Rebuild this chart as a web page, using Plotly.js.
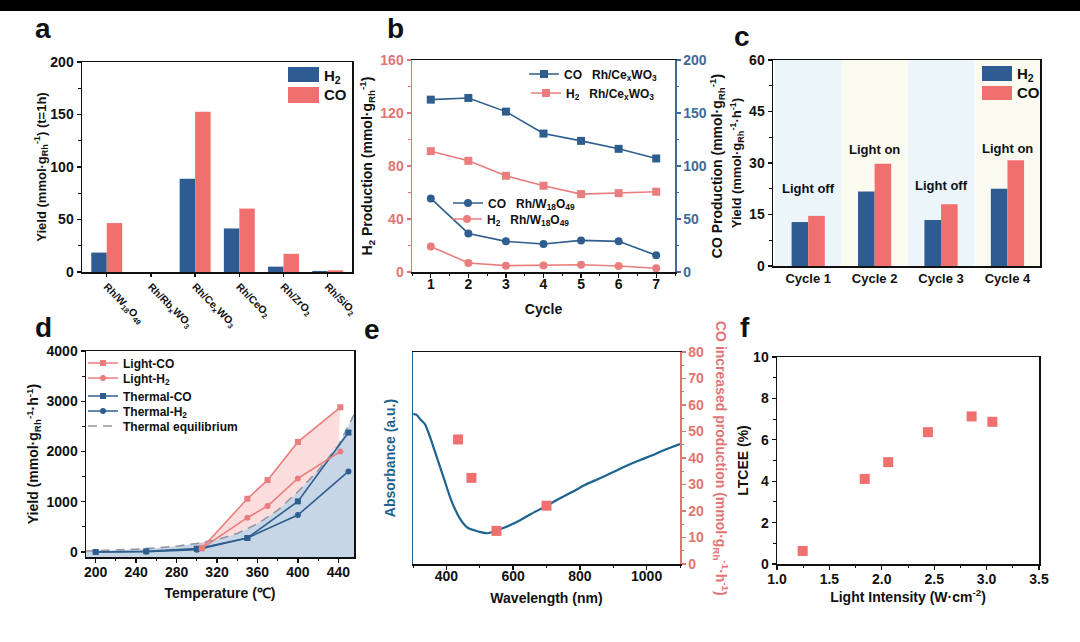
<!DOCTYPE html>
<html>
<head>
<meta charset="utf-8">
<script src="https://cdn.plot.ly/plotly-3.0.1.min.js"></script>
<style>
  html, body { margin: 0; padding: 0; background: #ffffff; }
  #fig { width: 1080px; height: 642px; }
</style>
</head>
<body>
<div id="fig"></div>
<script>
// ---------- (a) one-hour yields on different supports ----------
const supports = ['Rh/W<sub>18</sub>O<sub>49</sub>', 'Rh/Rb<sub>x</sub>WO<sub>3</sub>', 'Rh/Ce<sub>x</sub>WO<sub>3</sub>',
                  'Rh/CeO<sub>2</sub>', 'Rh/ZrO<sub>2</sub>', 'Rh/SiO<sub>2</sub>'];
const supportH2 = [18.5, 0, 88.8, 41.5, 5.1, 1.0];
const supportCO = [46.6, 0, 152.7, 60.4, 17.3, 1.6];

// ---------- (b) cycling stability ----------
const cycles = [1, 2, 3, 4, 5, 6, 7];
const coCeWO3 = [162.6, 164.2, 151.3, 130.6, 123.7, 116.2, 107.1];
const h2CeWO3 = [91.2, 83.9, 72.6, 65.1, 58.8, 59.5, 60.6];
const coW18O49 = [69.4, 36.4, 28.9, 26.4, 29.8, 28.9, 15.7];
const h2W18O49 = [19.3, 6.8, 4.8, 5.0, 5.5, 4.5, 2.8];

// ---------- (c) light on / off cycles ----------
const lightCycles = ['Cycle 1', 'Cycle 2', 'Cycle 3', 'Cycle 4'];
const lightStates = ['Light off', 'Light on', 'Light off', 'Light on'];
const cycleH2 = [12.8, 21.7, 13.4, 22.5];
const cycleCO = [14.6, 29.8, 18.0, 30.8];

// ---------- (d) temperature dependence ----------
const lightT = [305, 350, 370, 400, 442];
const lightCO = [73, 1060, 1430, 2190, 2880];
const lightH2 = [73, 682, 914, 1464, 2000];
const thermalT = [200, 250, 300, 350, 400, 450];
const thermalCO = [0, 13, 66, 278, 1007, 2377];
const thermalH2 = [0, 7, 46, 278, 735, 1603];
const eqT = [190, 200, 220, 240, 260, 280, 300, 320, 340, 360, 380, 400, 420, 440, 456];
const eqYield = [20, 25, 35, 55, 80, 115, 170, 245, 370, 560, 830, 1200, 1620, 2120, 2750];

// ---------- (e) absorbance and wavelength-resolved CO gain ----------
const wavelength = [301, 311, 321, 336, 351, 366, 381, 396, 411, 426, 441, 456, 466, 486, 506, 521, 536,
                    556, 575, 595, 625, 655, 695, 735, 775, 815, 855, 895, 935, 975, 1015, 1055, 1100];
const absorbance = [0.708, 0.703, 0.684, 0.659, 0.600, 0.529, 0.458, 0.387, 0.316, 0.258, 0.213, 0.182, 0.169,
                    0.158, 0.149, 0.145, 0.150, 0.161, 0.172, 0.186, 0.210, 0.237, 0.270, 0.305, 0.338, 0.373,
                    0.401, 0.430, 0.460, 0.487, 0.512, 0.539, 0.566];
const monoWavelength = [435, 475, 550, 700];
const coIncrease = [47, 32.5, 12.5, 22];

// ---------- (f) LTCEE vs light intensity ----------
const intensity = [1.245, 1.837, 2.061, 2.44, 2.857, 3.055];
const ltcee = [0.63, 4.11, 4.92, 6.37, 7.13, 6.87];

// ---------- styling ----------
const FONT = 'Arial, "Liberation Sans", Helvetica, sans-serif';
const INK = '#111111';
const BLUE = '#2e5b92', PINK = '#f07070';
const LINE_BLUE = '#2f5e8e', LINE_PINK = '#ea7d7d';
const AXIS_PINK = '#e27474', AXIS_BLUE = '#3d6c99';
const ABS_BLUE = '#1d6390';
const W = 1080, H = 642;
const X = p => p / W;
const Y = p => 1 - p / H;
const fnt = (size, color, weight) => ({ family: FONT, size: size, color: color || INK, weight: weight || 'bold' });

function axis(opts) {
  const base = {
    showline: true, linecolor: INK, linewidth: 1.5, mirror: true,
    ticks: 'outside', ticklen: 4, tickwidth: 1.3, tickcolor: INK,
    showgrid: false, zeroline: false, tickfont: fnt(14), fixedrange: true
  };
  return Object.assign(base, opts);
}
function minor(dtick, color) {
  return { ticks: 'outside', ticklen: 2.5, tickwidth: 1, tickcolor: color || INK, dtick: dtick, showgrid: false };
}
function title(text, size, color, standoff) {
  return { text: text, font: fnt(size || 14, color), standoff: standoff === undefined ? 3 : standoff };
}

const dRange = [-100, 4000];

// filled band between the light-CO curve and the equilibrium curve
const eqIdx = eqT.map((t, i) => i).filter(i => eqT[i] >= 300 && eqT[i] <= 445).reverse();
const bandX = lightT.concat(eqIdx.map(i => eqT[i]));
const bandY = lightCO.concat(eqIdx.map(i => eqYield[i]));

const traces = [
  // (a)
  { type: 'bar', x: supports, y: supportH2, xaxis: 'x', yaxis: 'y', width: 0.35, offset: -0.35,
    marker: { color: BLUE, line: { width: 0 } }, name: 'H<sub>2</sub>', showlegend: false },
  { type: 'bar', x: supports, y: supportCO, xaxis: 'x', yaxis: 'y', width: 0.35, offset: 0,
    marker: { color: PINK, line: { width: 0 } }, name: 'CO', showlegend: false },

  // (b)
  { type: 'scatter', mode: 'lines+markers', x: cycles, y: coCeWO3, xaxis: 'x2', yaxis: 'y3',
    line: { color: LINE_BLUE, width: 1.6 }, marker: { symbol: 'square', size: 8, color: LINE_BLUE },
    name: 'CO\u00a0\u00a0\u00a0Rh/Ce<sub>x</sub>WO<sub>3</sub>', legend: 'legend' },
  { type: 'scatter', mode: 'lines+markers', x: cycles, y: h2CeWO3, xaxis: 'x2', yaxis: 'y2',
    line: { color: LINE_PINK, width: 1.6 }, marker: { symbol: 'square', size: 8, color: LINE_PINK },
    name: 'H<sub>2</sub>\u00a0\u00a0\u00a0Rh/Ce<sub>x</sub>WO<sub>3</sub>', legend: 'legend2' },
  { type: 'scatter', mode: 'lines+markers', x: cycles, y: coW18O49, xaxis: 'x2', yaxis: 'y3',
    line: { color: LINE_BLUE, width: 1.6 }, marker: { symbol: 'circle', size: 8, color: LINE_BLUE },
    name: 'CO\u00a0\u00a0\u00a0Rh/W<sub>18</sub>O<sub>49</sub>', legend: 'legend3' },
  { type: 'scatter', mode: 'lines+markers', x: cycles, y: h2W18O49, xaxis: 'x2', yaxis: 'y2',
    line: { color: LINE_PINK, width: 1.6 }, marker: { symbol: 'circle', size: 8, color: LINE_PINK },
    name: 'H<sub>2</sub>\u00a0\u00a0\u00a0Rh/W<sub>18</sub>O<sub>49</sub>', legend: 'legend4' },

  // (c)
  { type: 'bar', x: lightCycles, y: cycleH2, xaxis: 'x3', yaxis: 'y4', width: 0.25, offset: -0.25,
    marker: { color: BLUE, line: { width: 0 } }, name: 'H<sub>2</sub>', showlegend: false },
  { type: 'bar', x: lightCycles, y: cycleCO, xaxis: 'x3', yaxis: 'y4', width: 0.25, offset: 0,
    marker: { color: PINK, line: { width: 0 } }, name: 'CO', showlegend: false },

  // (d) shaded regions
  { type: 'scatter', mode: 'none', x: eqT.concat([eqT[eqT.length - 1], eqT[0]]),
    y: eqYield.concat([dRange[0], dRange[0]]), xaxis: 'x4', yaxis: 'y5',
    fill: 'toself', fillcolor: 'rgba(70,120,175,0.30)', showlegend: false, hoverinfo: 'skip' },
  { type: 'scatter', mode: 'none', x: bandX, y: bandY, xaxis: 'x4', yaxis: 'y5',
    fill: 'toself', fillcolor: 'rgba(245,150,150,0.32)', showlegend: false, hoverinfo: 'skip' },
  { type: 'scatter', mode: 'lines', x: eqT, y: eqYield, xaxis: 'x4', yaxis: 'y5',
    line: { color: '#9596a3', width: 1.6, dash: '9px,6px' }, name: 'Thermal equilibrium', legend: 'legend9' },
  { type: 'scatter', mode: 'lines+markers', x: thermalT, y: thermalH2, xaxis: 'x4', yaxis: 'y5',
    line: { color: LINE_BLUE, width: 1.6 }, marker: { symbol: 'circle', size: 6, color: LINE_BLUE },
    name: 'Thermal-H<sub>2</sub>', legend: 'legend8' },
  { type: 'scatter', mode: 'lines+markers', x: thermalT, y: thermalCO, xaxis: 'x4', yaxis: 'y5',
    line: { color: LINE_BLUE, width: 1.6 }, marker: { symbol: 'square', size: 6, color: LINE_BLUE },
    name: 'Thermal-CO', legend: 'legend7' },
  { type: 'scatter', mode: 'lines+markers', x: lightT, y: lightH2, xaxis: 'x4', yaxis: 'y5',
    line: { color: LINE_PINK, width: 1.6 }, marker: { symbol: 'circle', size: 6, color: LINE_PINK },
    name: 'Light-H<sub>2</sub>', legend: 'legend6' },
  { type: 'scatter', mode: 'lines+markers', x: lightT, y: lightCO, xaxis: 'x4', yaxis: 'y5',
    line: { color: LINE_PINK, width: 1.6 }, marker: { symbol: 'square', size: 6, color: LINE_PINK },
    name: 'Light-CO', legend: 'legend5' },

  // (e)
  { type: 'scatter', mode: 'lines', x: wavelength, y: absorbance, xaxis: 'x5', yaxis: 'y6',
    line: { color: ABS_BLUE, width: 2.2, shape: 'spline', smoothing: 0.6 }, showlegend: false },
  { type: 'scatter', mode: 'markers', x: monoWavelength, y: coIncrease, xaxis: 'x5', yaxis: 'y7',
    marker: { symbol: 'square', size: 10, color: PINK }, showlegend: false },

  // (f)
  { type: 'scatter', mode: 'markers', x: intensity, y: ltcee, xaxis: 'x6', yaxis: 'y8',
    marker: { symbol: 'square', size: 10, color: PINK }, showlegend: false }
];

function legendAt(px, py, size) {
  return { x: X(px), y: Y(py), xanchor: 'left', yanchor: 'middle', bgcolor: 'rgba(0,0,0,0)',
           borderwidth: 0, font: fnt(size || 12), itemwidth: 30, tracegroupgap: 0 };
}
function paperText(text, px, py, font, xanchor, extra) {
  return Object.assign({ text: text, x: X(px), y: Y(py), xref: 'paper', yref: 'paper', showarrow: false,
                         xanchor: xanchor || 'center', yanchor: 'middle', font: font }, extra || {});
}

const stateLabelLift = [8, 4, 5.5, 3.4];
const annotations = [
  ['a', 43, 28], ['b', 395, 28], ['c', 742, 36], ['d', 43, 327], ['e', 372, 330], ['f', 745, 328]
].map(([t, px, py]) => paperText(t, px, py, fnt(28)));

lightStates.forEach((s, i) => {
  annotations.push({ text: s, x: lightCycles[i], y: Math.max(cycleH2[i], cycleCO[i]) + stateLabelLift[i],
                     xref: 'x3', yref: 'y4', showarrow: false, xanchor: 'center', yanchor: 'middle', font: fnt(13) });
});

// bar legends (a) and (c)
const shapes = [
  { type: 'rect', xref: 'paper', yref: 'paper', x0: 0, x1: 1, y0: Y(11), y1: 1,
    fillcolor: '#000000', line: { width: 0 } },
  { type: 'rect', xref: 'paper', yref: 'paper', x0: X(288), x1: X(319), y0: Y(82), y1: Y(67),
    fillcolor: BLUE, line: { width: 0 } },
  { type: 'rect', xref: 'paper', yref: 'paper', x0: X(288), x1: X(319), y0: Y(103), y1: Y(87),
    fillcolor: PINK, line: { width: 0 } },
  { type: 'rect', xref: 'paper', yref: 'paper', x0: X(982), x1: X(1012), y0: Y(81), y1: Y(66),
    fillcolor: BLUE, line: { width: 0 } },
  { type: 'rect', xref: 'paper', yref: 'paper', x0: X(982), x1: X(1012), y0: Y(100), y1: Y(86),
    fillcolor: PINK, line: { width: 0 } }
];
// tinted background of the light on/off cycles
lightCycles.forEach((c, i) => {
  shapes.push({ type: 'rect', xref: 'x3', yref: 'y4 domain', x0: i - 0.5, x1: i + 0.5, y0: 0, y1: 1,
                fillcolor: i % 2 === 0 ? '#ecf5f9' : '#fafaf0', line: { width: 0 }, layer: 'below' });
});
annotations.push(
  paperText('H<sub>2</sub>', 322, 76, fnt(15), 'left'),
  paperText('CO', 322, 95, fnt(15), 'left'),
  paperText('H<sub>2</sub>', 1015, 75, fnt(15), 'left'),
  paperText('CO', 1015, 93, fnt(15), 'left'),
  paperText('CO increased production (mmol·g<sub>Rh</sub><sup>-1</sup>·h<sup>-1</sup>)', 721, 458,
            fnt(14, AXIS_PINK), 'center', { textangle: 90 })
);

const layout = {
  width: W, height: H, autosize: false,
  margin: { l: 0, r: 0, t: 0, b: 0, pad: 0 },
  paper_bgcolor: '#ffffff', plot_bgcolor: 'rgba(0,0,0,0)',
  font: fnt(14), showlegend: true, barmode: 'overlay',

  // (a)
  xaxis: axis({ domain: [X(82), X(352)], anchor: 'y', type: 'category', range: [-0.56, 5.55],
                tickangle: 45, tickfont: fnt(10.5), ticks: 'outside', ticklen: 3 }),
  yaxis: axis({ domain: [Y(272), Y(62)], anchor: 'x', range: [0, 200], dtick: 50, minor: minor(25),
                title: title('Yield (mmol·g<sub>Rh</sub><sup>-1</sup>) (t=1h)', 13, null, 0) }),

  // (b)
  xaxis2: axis({ domain: [X(412), X(675)], anchor: 'y2', range: [0.5, 7.5], dtick: 1, minor: minor(0.5),
                 ticklabelstandoff: -5, title: title('Cycle', 14, null, 13) }),
  yaxis2: axis({ domain: [Y(272), Y(60)], anchor: 'x2', range: [0, 160], dtick: 40, mirror: false,
                 linecolor: AXIS_PINK, tickcolor: AXIS_PINK, tickfont: fnt(14, AXIS_PINK), minor: minor(20, AXIS_PINK),
                 title: title('H<sub>2</sub> Production (mmol·g<sub>Rh</sub><sup>-1</sup>)', 14, null, 4) }),
  yaxis3: axis({ overlaying: 'y2', side: 'right', anchor: 'x2', range: [0, 200], dtick: 50, mirror: false,
                 linecolor: AXIS_BLUE, tickcolor: AXIS_BLUE, tickfont: fnt(14, AXIS_BLUE), minor: minor(25, AXIS_BLUE),
                 title: title('CO Production (mmol·g<sub>Rh</sub><sup>-1</sup>)', 14, null, 6) }),

  // (c)
  xaxis3: axis({ domain: [X(773), X(1040)], anchor: 'y4', type: 'category', range: [-0.53, 3.49],
                 tickfont: fnt(13), ticks: '' }),
  yaxis4: axis({ domain: [Y(266), Y(60)], anchor: 'x3', range: [0, 60], dtick: 15, minor: minor(7.5),
                 title: title('Yield (mmol·g<sub>Rh</sub><sup>-1</sup>·h<sup>-1</sup>)', 13, null, 4) }),

  // (d)
  xaxis4: axis({ domain: [X(86), X(354)], anchor: 'y5', range: [190.4, 455.5], tick0: 200, dtick: 40,
                 minor: minor(20), ticklabelstandoff: -2, title: title('Temperature (℃)', 14, null, 9) }),
  yaxis5: axis({ domain: [Y(557), Y(351)], anchor: 'x4', range: dRange, tick0: 0, dtick: 1000,
                 minor: minor(500), title: title('Yield (mmol·g<sub>Rh</sub><sup>-1</sup>·h<sup>-1</sup>)', 14, null, 4) }),

  // (e)
  xaxis5: axis({ domain: [X(413), X(680)], anchor: 'y6', range: [300, 1100], tick0: 0, dtick: 200,
                 minor: minor(100), ticklabelstandoff: -5, title: title('Wavelength (nm)', 14, null, 10) }),
  yaxis6: axis({ domain: [Y(564), Y(352)], anchor: 'x5', range: [0, 1], mirror: false, ticks: '',
                 showticklabels: false, linecolor: ABS_BLUE, title: title('Absorbance (a.u.)', 14, ABS_BLUE, 12) }),
  yaxis7: axis({ overlaying: 'y6', side: 'right', anchor: 'x5', range: [0, 80], dtick: 10, mirror: false,
                 linecolor: AXIS_PINK, tickcolor: AXIS_PINK, tickfont: fnt(14, AXIS_PINK), minor: minor(5, AXIS_PINK) }),

  // (f)
  xaxis6: axis({ domain: [X(777), X(1039)], anchor: 'y8', range: [1, 3.5], dtick: 0.5, minor: minor(0.25),
                 tickformat: '.1f', ticklabelstandoff: -2, title: title('Light Intensity (W·cm<sup>-2</sup>)', 14, null, 3) }),
  yaxis8: axis({ domain: [Y(564), Y(357)], anchor: 'x6', range: [0, 10], dtick: 2, minor: minor(1),
                 title: title('LTCEE (%)', 14, null, 1) }),

  legend: legendAt(524, 74),
  legend2: legendAt(526, 93),
  legend3: legendAt(448, 203),
  legend4: legendAt(447, 219),
  legend5: legendAt(83, 363),
  legend6: legendAt(83, 378),
  legend7: legendAt(83, 396),
  legend8: legendAt(83, 411),
  legend9: legendAt(83, 426),

  shapes: shapes,
  annotations: annotations
};

Plotly.newPlot('fig', traces, layout, { displayModeBar: false, staticPlot: true });
</script>
</body>
</html>
